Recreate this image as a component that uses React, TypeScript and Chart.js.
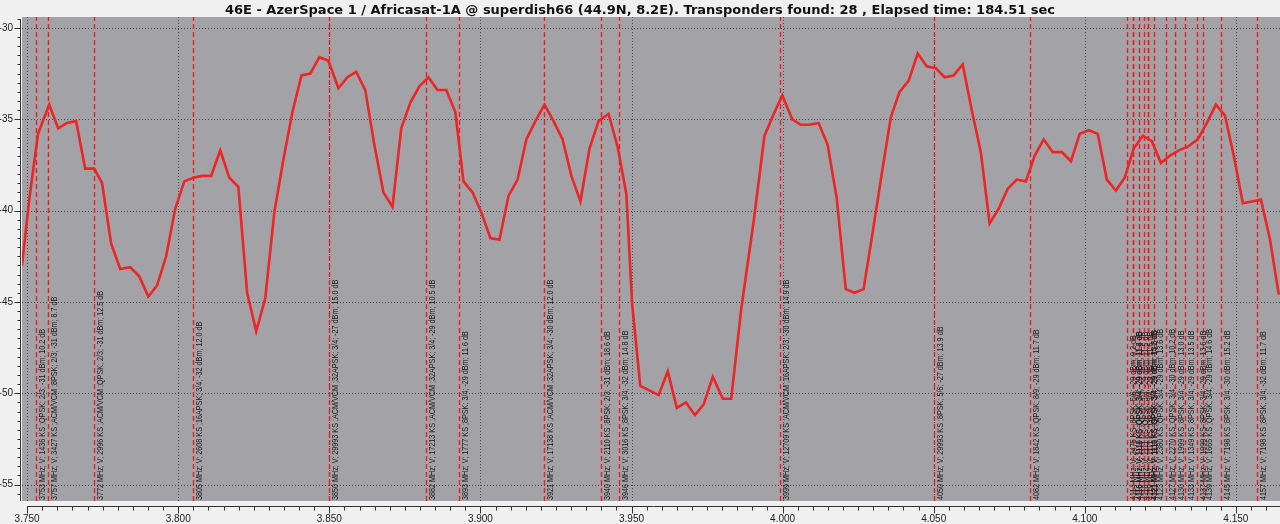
import React, { useEffect, useRef } from "react";
import { Chart, registerables } from "chart.js";

Chart.register(...registerables);

const TITLE =
  "46E - AzerSpace 1 / Africasat-1A @ superdish66 (44.9N, 8.2E). Transponders found: 28 , Elapsed time: 184.51 sec";

// Sweep (frequency in MHz, level in dB)
const sweepFreqMHz = [
  3748.3, 3750.7, 3753.6, 3757.3, 3760.3, 3763.2, 3766.2, 3769.2, 3772.2, 3774.8,
  3777.8, 3780.8, 3784.1, 3787.1, 3790.1, 3793.0, 3796.0, 3799.0, 3802.0, 3805.0,
  3807.9, 3810.9, 3813.9, 3816.9, 3819.9, 3822.8, 3825.8, 3828.8, 3831.8, 3834.8,
  3837.8, 3840.8, 3843.7, 3846.7, 3849.7, 3853.0, 3856.0, 3858.9, 3861.9, 3864.9,
  3867.9, 3870.9, 3873.8, 3876.8, 3879.8, 3882.8, 3885.8, 3888.7, 3891.7, 3894.4,
  3897.4, 3900.3, 3903.3, 3906.3, 3909.3, 3912.3, 3915.2, 3918.2, 3921.2, 3924.2,
  3927.2, 3930.1, 3933.1, 3936.1, 3939.1, 3942.4, 3945.4, 3948.3, 3950.2, 3952.9,
  3959.0, 3962.0, 3965.0, 3968.0, 3971.0, 3973.9, 3976.9, 3980.2, 3983.0, 3986.3,
  3990.5, 3994.0, 3997.1, 3999.9, 4003.2, 4006.0, 4008.9, 4011.9, 4014.9, 4017.9,
  4020.9, 4023.8, 4026.8, 4029.8, 4032.8, 4035.8, 4038.7, 4041.7, 4044.7, 4047.7,
  4050.7, 4053.6, 4056.6, 4059.6, 4062.6, 4065.6, 4068.5, 4071.5, 4074.5, 4077.5,
  4080.5, 4083.4, 4086.4, 4089.4, 4092.4, 4095.4, 4098.3, 4101.3, 4104.3, 4107.3,
  4110.3, 4113.2, 4116.2, 4119.2, 4122.2, 4125.2, 4128.1, 4131.1, 4134.1, 4137.4,
  4140.4, 4143.4, 4146.4, 4149.3, 4152.3, 4155.3, 4158.3, 4161.3, 4164.2,
];
const sweepLevelDb = [
  -43.0, -39.4, -35.8, -34.2, -35.5, -35.2, -35.1, -37.7, -37.7, -38.5,
  -41.8, -43.2, -43.1, -43.6, -44.7, -44.1, -42.5, -39.9, -38.4, -38.2,
  -38.1, -38.1, -36.7, -38.2, -38.7, -44.5, -46.6, -44.8, -40.1, -37.2,
  -34.6, -32.6, -32.5, -31.6, -31.8, -33.3, -32.7, -32.4, -33.4, -36.4,
  -39.0, -39.8, -35.5, -34.1, -33.2, -32.7, -33.4, -33.4, -34.6, -38.4,
  -39.0, -40.1, -41.5, -41.6, -39.2, -38.3, -36.1, -35.1, -34.2, -35.1,
  -36.1, -38.1, -39.5, -36.6, -35.1, -34.7, -36.5, -39.1, -45.1, -49.6,
  -50.1, -48.8, -50.8, -50.5, -51.2, -50.6, -49.1, -50.3, -50.3, -45.4,
  -40.5, -35.9, -34.7, -33.7, -35.0, -35.3, -35.3, -35.2, -36.4, -39.3,
  -44.3, -44.5, -44.3, -41.2, -38.0, -34.9, -33.5, -32.9, -31.4, -32.1,
  -32.2, -32.7, -32.6, -32.0, -34.5, -36.8, -40.7, -39.9, -38.8, -38.3,
  -38.4, -37.0, -36.1, -36.8, -36.8, -37.3, -35.8, -35.6, -35.8, -38.3,
  -38.9, -38.2, -36.6, -35.9, -36.2, -37.4, -37.0, -36.7, -36.5, -36.1,
  -35.2, -34.2, -34.8, -37.0, -39.6, -39.5, -39.4, -41.6, -44.6,
];

// Transponders found
const tpFreqMHz = [
  3753, 3757, 3772, 3805, 3850, 3882, 3893, 3921, 3940, 3946, 3999, 4050, 4082,
  4114, 4116, 4116, 4118, 4119.5, 4121, 4121, 4123, 4127, 4130, 4133, 4137, 4139, 4145, 4157,
];
const tpLabels = [
  "3753 MHz; V; 1436 KS ;QPSK; 2/3; -31 dBm; 10.2 dB",
  "3757 MHz; V; 3427 KS ;ACM/VCM ;8PSK; 2/3; -31 dBm; 8.7 dB",
  "3772 MHz; V; 2996 KS ;ACM/VCM ;QPSK; 2/3; -31 dBm; 12.5 dB",
  "3805 MHz; V; 2608 KS ;16APSK; 3/4; -32 dBm; 12.0 dB",
  "3850 MHz; V; 29993 KS ;ACM/VCM ;32APSK; 3/4; -27 dBm; 15.0 dB",
  "3882 MHz; V; 17213 KS ;ACM/VCM ;32APSK; 3/4; -29 dBm; 10.5 dB",
  "3893 MHz; V; 1777 KS ;8PSK; 3/4; -29 dBm; 11.6 dB",
  "3921 MHz; V; 17138 KS ;ACM/VCM ;32APSK; 3/4; -30 dBm; 12.0 dB",
  "3940 MHz; V; 2110 KS ;8PSK; 2/3; -31 dBm; 18.6 dB",
  "3946 MHz; V; 3016 KS ;8PSK; 3/4; -32 dBm; 14.8 dB",
  "3999 MHz; V; 12709 KS ;ACM/VCM ;16APSK; 2/3; -30 dBm; 14.9 dB",
  "4050 MHz; V; 29993 KS ;8PSK; 5/6; -27 dBm; 13.9 dB",
  "4082 MHz; V; 1842 KS ;QPSK; 8/9; -29 dBm; 11.7 dB",
  "4114 MHz; V; 2475 KS ;8PSK; 5/6; -29 dBm; 9.2 dB",
  "4116 MHz; V; 1111 KS ;QPSK; 3/4; -29 dBm; 11.8 dB",
  "4116 MHz; V; 1110 KS ;QPSK; 3/4; -29 dBm; 11.4 dB",
  "4118 MHz; V; 1111 KS ;QPSK; 3/4; -29 dBm; 11.5 dB",
  "4119 MHz; V; 1111 KS ;QPSK; 3/4; -29 dBm; 11.6 dB",
  "4121 MHz; V; 1111 KS ;QPSK; 3/4; -29 dBm; 14.2 dB",
  "4121 MHz; V; 1110 KS ;QPSK; 3/4; -29 dBm; 13.8 dB",
  "4123 MHz; V; 2380 KS ;QPSK; 3/4; -29 dBm; 13.6 dB",
  "4127 MHz; V; 2270 KS ;QPSK; 3/4; -30 dBm; 10.2 dB",
  "4130 MHz; V; 1999 KS ;8PSK; 3/4; -29 dBm; 13.0 dB",
  "4133 MHz; V; 1349 KS ;8PSK; 3/4; -29 dBm; 13.5 dB",
  "4137 MHz; V; 1999 KS ;8PSK; 3/4; -29 dBm; 13.6 dB",
  "4139 MHz; V; 1665 KS ;QPSK; 3/4; -29 dBm; 14.6 dB",
  "4145 MHz; V; 7198 KS ;8PSK; 3/4; -30 dBm; 15.2 dB",
  "4157 MHz; V; 7198 KS ;8PSK; 3/4; -32 dBm; 11.7 dB",
];

const xTicksGHz = [3.75, 3.8, 3.85, 3.9, 3.95, 4.0, 4.05, 4.1, 4.15];
const yTicksDb = [-55, -50, -45, -40, -35, -30];
const X_MIN = 3.7483;
const X_MAX = 4.1646;
const Y_MIN = -55.9;
const Y_MAX = -29.4;

const SANS = "'Liberation Sans', Arial, sans-serif";
const PAGE_BG = "#f0f0f0";
const PLOT_BG = "#a2a2a7";

const decorPlugin = {
  id: "decor",
  beforeDraw(chart: any) {
    const { ctx, chartArea: a, width, height } = chart;
    const xs = chart.scales.x;
    const ys = chart.scales.y;
    ctx.save();
    ctx.fillStyle = PAGE_BG;
    ctx.fillRect(0, 0, width, height);
    ctx.fillStyle = PLOT_BG;
    ctx.fillRect(a.left, a.top, a.right - a.left, a.bottom - a.top);

    // dotted grid
    ctx.strokeStyle = "#4c4c50";
    ctx.lineWidth = 1;
    ctx.setLineDash([1, 2]);
    for (const v of xTicksGHz) {
      const px = Math.round(xs.getPixelForValue(v)) + 0.5;
      ctx.beginPath();
      ctx.moveTo(px, a.top);
      ctx.lineTo(px, a.bottom);
      ctx.stroke();
    }
    for (const v of yTicksDb) {
      const py = Math.round(ys.getPixelForValue(v)) + 0.5;
      ctx.beginPath();
      ctx.moveTo(a.left, py);
      ctx.lineTo(a.right, py);
      ctx.stroke();
    }

    // transponder markers
    ctx.strokeStyle = "#e0242a";
    ctx.lineWidth = 1.4;
    ctx.setLineDash([5, 3]);
    for (const f of tpFreqMHz) {
      const px = Math.round(xs.getPixelForValue(f / 1000)) + 0.5;
      ctx.beginPath();
      ctx.moveTo(px, a.bottom);
      ctx.lineTo(px, a.top);
      ctx.stroke();
    }
    ctx.setLineDash([]);
    ctx.fillStyle = "#1c1c1c";
    ctx.font = `9px ${SANS}`;
    ctx.textAlign = "left";
    ctx.textBaseline = "top";
    tpFreqMHz.forEach((f, i) => {
      const px = Math.round(xs.getPixelForValue(f / 1000));
      ctx.save();
      ctx.translate(px + 2, a.bottom - 1);
      ctx.rotate(-Math.PI / 2);
      ctx.scale(0.8, 1);
      ctx.fillText(tpLabels[i], 0, 0);
      ctx.restore();
    });

    // axes
    ctx.strokeStyle = "#333";
    ctx.lineWidth = 1;
    const yAxisX = a.left - 1.5;
    ctx.beginPath();
    ctx.moveTo(yAxisX, a.top + 2);
    ctx.lineTo(yAxisX, a.bottom);
    ctx.stroke();
    for (let v = -55.5; v <= Y_MAX; v += 0.5) {
      const py = Math.round(ys.getPixelForValue(v)) + 0.5;
      const major = Math.abs(v % 5) < 1e-6;
      ctx.beginPath();
      ctx.moveTo(yAxisX - (major ? 6 : 3), py);
      ctx.lineTo(yAxisX, py);
      ctx.stroke();
    }
    const xAxisY = a.bottom + 5.5;
    ctx.beginPath();
    ctx.moveTo(Math.round(xs.getPixelForValue(3.75)), xAxisY);
    ctx.lineTo(a.right, xAxisY);
    ctx.stroke();
    for (let k = 0; k <= 82; k++) {
      const v = 3.75 + k * 0.005;
      if (v > X_MAX) break;
      const px = Math.round(xs.getPixelForValue(v)) + 0.5;
      const major = k % 10 === 0;
      ctx.beginPath();
      ctx.moveTo(px, xAxisY);
      ctx.lineTo(px, xAxisY + (major ? 7 : 4));
      ctx.stroke();
    }

    // title
    ctx.fillStyle = "#111";
    ctx.font = "bold 13px 'DejaVu Sans', sans-serif";
    ctx.textAlign = "center";
    ctx.textBaseline = "alphabetic";
    ctx.fillText(TITLE, width / 2, 14);
    ctx.restore();
  },
};

export default function App() {
  const ref = useRef<HTMLCanvasElement | null>(null);
  useEffect(() => {
    document.body.style.margin = "0";
    const canvas = ref.current;
    if (!canvas) return;
    const chart = new Chart(canvas, {
      type: "line",
      data: {
        datasets: [
          {
            data: sweepFreqMHz.map((f, i) => ({ x: f / 1000, y: sweepLevelDb[i] })),
            borderColor: "#ec2525",
            borderWidth: 2.6,
            pointRadius: 0,
            tension: 0,
            fill: false,
          },
        ],
      },
      options: {
        animation: false,
        responsive: false,
        maintainAspectRatio: false,
        layout: { padding: { top: 17, left: 0, right: 0, bottom: 0 } },
        plugins: { legend: { display: false }, tooltip: { enabled: false }, title: { display: false } },
        scales: {
          x: {
            type: "linear",
            min: X_MIN,
            max: X_MAX,
            afterBuildTicks: (s: any) => {
              s.ticks = xTicksGHz.map((v) => ({ value: v }));
            },
            afterFit: (s: any) => {
              s.height = 23;
            },
            grid: { display: false, drawTicks: false },
            border: { display: false },
            ticks: {
              autoSkip: false,
              maxRotation: 0,
              padding: 12,
              color: "#222",
              font: { family: SANS, size: 10 },
              callback: (v: any) => Number(v).toFixed(3),
            },
          },
          y: {
            type: "linear",
            min: Y_MIN,
            max: Y_MAX,
            afterBuildTicks: (s: any) => {
              s.ticks = yTicksDb.map((v) => ({ value: v }));
            },
            afterFit: (s: any) => {
              s.width = 22;
            },
            grid: { display: false, drawTicks: false },
            border: { display: false },
            ticks: {
              padding: 9,
              color: "#222",
              font: { family: SANS, size: 10 },
              callback: (v: any) => String(v),
            },
          },
        },
      },
      plugins: [decorPlugin],
    });
    return () => chart.destroy();
  }, []);
  return (
    <div style={{ position: "fixed", left: 0, top: 0, width: 1280, height: 524, background: PAGE_BG }}>
      <canvas ref={ref} width={1280} height={524} style={{ display: "block" }} />
    </div>
  );
}
